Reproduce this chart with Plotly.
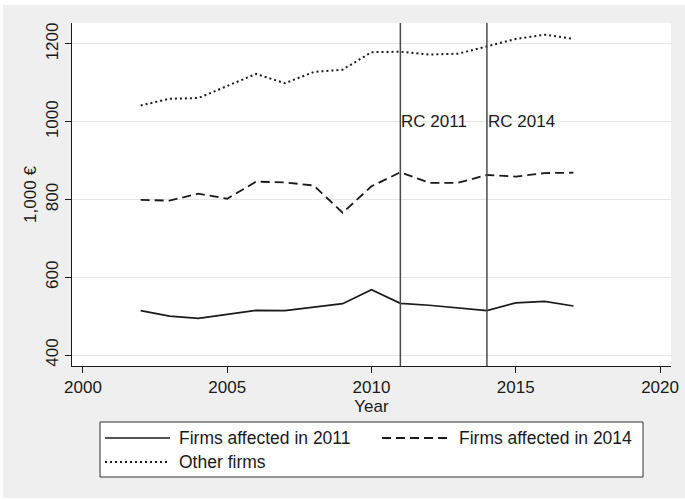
import plotly.graph_objects as go

# Mean wage cost per employee (thousand euro), by group of firms
years = list(range(2002, 2018))
firms_2011 = [514, 500, 494, 504, 515, 514, 523, 532, 568, 533, 528, 521, 514, 534, 538, 526]
firms_2014 = [799, 797, 815, 802, 846, 844, 836, 766, 834, 870, 843, 843, 863, 859, 868, 869]
other_firms = [1042, 1059, 1061, 1093, 1123, 1099, 1128, 1134, 1179, 1180, 1173, 1175, 1193, 1213, 1224, 1213]

series_names = ["Firms affected in 2011", "Firms affected in 2014", "Other firms"]

reform_years = [2011, 2014]
reform_labels = ["RC 2011", "RC 2014"]
reform_label_level = 1000

x_ticks = [2000, 2005, 2010, 2015, 2020]
y_ticks = [400, 600, 800, 1000, 1200]
y_tick_text = ["400", "600", "800", "1000", "1200"]

# ---- geometry -------------------------------------------------------------
W, H = 685, 500
L, R, T, B = 72, 14, 23, 134
PW, PH = W - L - R, H - T - B


def px_x(px):
    return (px - L) / PW


def px_y(py):
    return (H - B - py) / PH


FONT = "Liberation Sans, Arial, sans-serif"
INK = "#1a1a1a"
BG = "#efefef"

styles = [
    dict(color=INK, width=1.7, dash="solid"),
    dict(color=INK, width=1.8, dash="9px,5px"),
    dict(color=INK, width=2.0, dash="2px,3px"),
]

fig = go.Figure()
for name, vals, st in zip(series_names, [firms_2011, firms_2014, other_firms], styles):
    fig.add_trace(go.Scatter(
        x=years, y=vals, mode="lines", name=name,
        line=st, showlegend=False,
    ))

# thin white border around the grey graph region
shapes = [
    dict(type="rect", xref="paper", yref="paper", layer="above",
         x0=px_x(-5), x1=px_x(W + 5), y0=px_y(5), y1=px_y(-5),
         fillcolor="white", line=dict(width=0)),
    dict(type="rect", xref="paper", yref="paper", layer="above",
         x0=px_x(-5), x1=px_x(3), y0=px_y(H + 5), y1=px_y(-5),
         fillcolor="white", line=dict(width=0)),
    dict(type="rect", xref="paper", yref="paper", layer="above",
         x0=px_x(-5), x1=px_x(W + 5), y0=px_y(H + 5), y1=px_y(498),
         fillcolor="white", line=dict(width=0)),
]

annotations = []
for yr, lab in zip(reform_years, reform_labels):
    shapes.append(dict(type="line", xref="x", yref="paper", x0=yr, x1=yr, y0=0, y1=1,
                       line=dict(color="#4a4a4a", width=1.5), layer="above"))
    annotations.append(dict(x=yr, y=reform_label_level, xref="x", yref="y",
                            text=lab, showarrow=False, xanchor="left", yanchor="middle",
                            xshift=-1, font=dict(family=FONT, size=17, color=INK)))

# ---- legend box -----------------------------------------------------------
shapes.append(dict(type="rect", xref="paper", yref="paper",
                   x0=px_x(100), x1=px_x(643), y0=px_y(477), y1=px_y(422),
                   fillcolor="white", line=dict(color="#333333", width=1)))

legend_slots = [
    (105, 170, 177, 438),
    (382, 452, 457, 438),
    (105, 170, 177, 462),
]
for (lx0, lx1, tx, ly), name, st in zip(legend_slots, series_names, styles):
    shapes.append(dict(type="line", xref="paper", yref="paper",
                       x0=px_x(lx0), x1=px_x(lx1), y0=px_y(ly), y1=px_y(ly),
                       line=st))
    annotations.append(dict(x=px_x(tx), y=px_y(ly), xref="paper", yref="paper",
                            text=name, showarrow=False, xanchor="left", yanchor="middle",
                            font=dict(family=FONT, size=17.5, color=INK)))

fig.update_layout(
    width=W, height=H,
    margin=dict(l=L, r=R, t=T, b=B, pad=0, autoexpand=False),
    paper_bgcolor=BG,
    plot_bgcolor="white",
    font=dict(family=FONT, size=17, color=INK),
    shapes=shapes,
    annotations=annotations,
    showlegend=False,
)

fig.update_xaxes(
    range=[1999.62, 2020.38], automargin=False,
    tickvals=x_ticks, ticks="outside", ticklen=6, tickcolor=INK, tickwidth=1,
    showgrid=False, zeroline=False,
    showline=True, linecolor=INK, linewidth=1,
    tickfont=dict(family=FONT, size=17, color=INK),
    title=dict(text="Year", font=dict(family=FONT, size=17, color=INK), standoff=0),
)

fig.update_yaxes(
    range=[371.7, 1254], automargin=False,
    tickvals=y_ticks, ticktext=y_tick_text, tickangle=-90,
    ticks="outside", ticklen=6, tickcolor=INK, tickwidth=1,
    showgrid=True, gridcolor="#e6e6e6", gridwidth=1, zeroline=False,
    showline=True, linecolor=INK, linewidth=1,
    tickfont=dict(family=FONT, size=17, color=INK),
    title=dict(text="1,000 €", font=dict(family=FONT, size=17, color=INK), standoff=2),
)

fig.write_html("out.html")
